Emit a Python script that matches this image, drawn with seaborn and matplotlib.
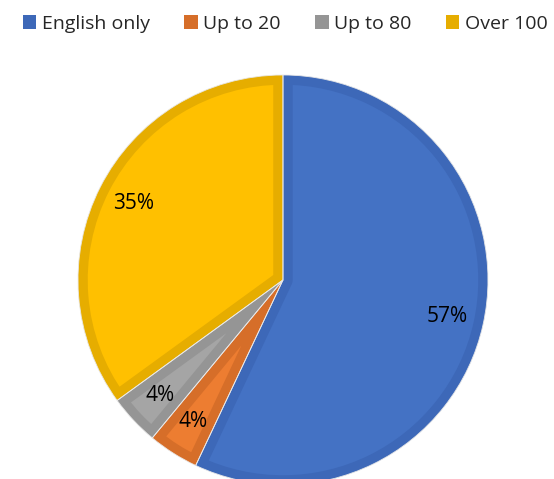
import matplotlib
matplotlib.use("Agg")
import matplotlib.pyplot as plt
import seaborn as sns
from matplotlib.patches import Patch

categories = ["English only", "Up to 20", "Up to 80", "Over 100"]
shares = [57, 4, 4, 35]
fill_colors = ["#4472C4", "#ED7D31", "#A5A5A5", "#FFC000"]
edge_colors = ["#3D68B8", "#D66E29", "#959595", "#E6AD00"]

sns.set_style("white")
plt.rcParams["font.family"] = ["Open Sans", "DejaVu Sans"]

fig = plt.figure(figsize=(5.54, 4.79), dpi=100)
# square axes so the pie sits where the reference has it (partly cut at the bottom)
ax = fig.add_axes([0.1408, -0.0125, 0.740, 0.856])

wedges, texts, autotexts = ax.pie(
    shares, colors=fill_colors, startangle=90, counterclock=False,
    autopct="%1.0f%%", pctdistance=0.82, radius=1,
    textprops={"fontsize": 15, "color": "black"},
    wedgeprops={"antialiased": True},
)
# darker inner border, clipped to each wedge
for w, ec in zip(wedges, edge_colors):
    w.set_edgecolor(ec)
    w.set_linewidth(14)
    w.set_joinstyle("round")
    w.set_clip_on(True)
    w.set_clip_path(w.get_path(), w.get_transform())

# thin light seam between the two small slices
ax.pie(shares, colors=["none"] * 4, startangle=90, counterclock=False, radius=1,
       wedgeprops={"edgecolor": "#E8E8E8", "linewidth": 0.6, "fill": False})

ax.set_xlim(-1, 1)
ax.set_ylim(-1, 1)
ax.axis("off")

handles = [Patch(facecolor=c, edgecolor="none") for c in edge_colors]
fig.legend(handles, categories, loc="upper center", bbox_to_anchor=(0.515, 1.0),
           ncol=4, frameon=False, fontsize=14, handlelength=0.7, handleheight=0.7,
           handletextpad=0.3, columnspacing=1.75, borderaxespad=0.35)

fig.savefig("out.png", dpi=100)
